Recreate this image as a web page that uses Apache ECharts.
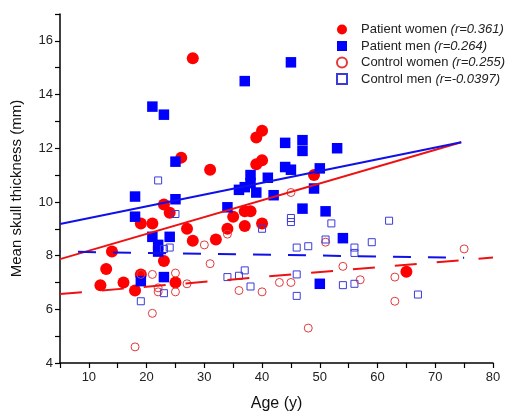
<!DOCTYPE html>
<html>
<head>
<meta charset="utf-8">
<script src="https://cdn.jsdelivr.net/npm/echarts@6/dist/echarts.min.js"></script>
<style>html,body{margin:0;padding:0;background:#fff}#c{width:508px;height:417px}</style>
</head>
<body>
<div id="c"></div>
<script>
// Patient women
const pwAge = [12,13,14,16,18,19,19,21,23,23,24,25,26,27,28,28,31,32,34,35,37,37,38,39,39,40,40,40,49,65];
const pwThk = [6.9,7.5,8.15,7.0,6.7,9.2,7.3,9.2,9.9,7.8,9.6,7.0,11.65,9.0,8.55,15.35,11.2,8.6,9.0,9.45,9.1,9.65,9.65,12.4,11.4,12.65,11.55,9.2,11.0,7.4];
// Patient men
const pmAge = [18,18,19,21,21,22,22,23,23,24,25,25,34,36,37,37,38,38,39,41,42,44,44,45,45,47,47,47,49,50,50,51,53,54];
const pmThk = [10.2,9.45,7.05,13.55,8.7,8.4,8.15,13.25,7.2,8.7,11.5,10.1,9.8,10.45,10.55,14.5,11.0,10.7,10.35,10.9,10.25,12.2,11.3,11.2,15.2,12.3,11.9,9.75,10.5,11.25,6.95,9.65,12.0,8.65];
// Control women
const cwAge = [18,19,21,21,22,22,25,25,27,30,31,34,36,40,43,45,45,48,51,54,57,63,63,75];
const cwThk = [4.6,7.3,7.3,5.85,6.8,6.65,7.35,6.65,6.95,8.4,7.7,8.8,6.7,6.65,7.0,7.0,10.35,5.3,8.5,7.6,7.1,7.2,6.3,8.25];
// Control men
const cmAge = [19,22,23,23,24,25,34,36,37,38,40,45,45,46,46,46,48,51,52,54,56,56,56,59,62,67];
const cmThk = [6.3,10.8,6.6,8.25,8.3,9.55,7.2,7.25,7.45,6.85,9.0,9.4,9.25,8.3,7.3,6.5,8.35,8.6,9.2,6.9,8.3,8.1,6.95,8.5,9.3,6.55];
// Regression line endpoints
const pwFitX = [5, 74.5], pwFitY = [7.87, 12.22];
const pmFitX = [5, 74.5], pmFitY = [9.18, 12.22];
const cwFitX = [5, 80], cwFitY = [6.57, 7.93];
const cmFitX = [5, 75], cmFitY = [8.15, 7.92];
// Legend names and r values
const names = ['Patient women', 'Patient men', 'Control women', 'Control men'];
const rVals = ['0.361', '0.264', '0.255', '-0.0397'];

const zip = (a, b) => a.map((v, i) => [v, b[i]]);
const FONT = 'Arial, "Liberation Sans", Helvetica, sans-serif';
const RED = '#ff0000', BLUE = '#0000ff';

const chart = echarts.init(document.getElementById('c'), null, {renderer: 'canvas'});
const axisCommon = {
  axisLine: {show: true, onZero: false, lineStyle: {color: '#000', width: 1.5}},
  axisTick: {show: true, inside: false, length: 5, lineStyle: {color: '#000', width: 1.2}},
  splitLine: {show: false},
  nameLocation: 'middle',
  nameTextStyle: {fontFamily: FONT, color: '#111'}
};
chart.setOption({
  animation: false,
  backgroundColor: '#fff',
  grid: {left: 60, right: 15, top: 14, bottom: 50},
  legend: {
    orient: 'vertical',
    left: 336, top: 23, padding: 0,
    itemWidth: 10, itemHeight: 10, itemGap: 3.5,
    data: names,
    formatter: n => '{n|' + n + ' }{i|(r=' + rVals[names.indexOf(n)] + ')}',
    textStyle: {
      fontFamily: FONT, fontSize: 13, color: '#222', lineHeight: 13,
      rich: {
        n: {fontFamily: FONT, fontSize: 13, color: '#222', lineHeight: 13, padding: [0, 0, 0, 9]},
        i: {fontFamily: FONT, fontSize: 13, color: '#222', lineHeight: 13, fontStyle: 'italic'}
      }
    }
  },
  xAxis: Object.assign({}, axisCommon, {
    type: 'value', min: 5, max: 80, interval: 5,
    name: 'Age (y)', nameGap: 33,
    nameTextStyle: {fontFamily: FONT, fontSize: 16, color: '#111'},
    axisLabel: {fontFamily: FONT, fontSize: 13, color: '#222', margin: 8,
      formatter: v => (v % 10 === 0 ? String(v) : '')}
  }),
  yAxis: Object.assign({}, axisCommon, {
    type: 'value', min: 4, max: 17, interval: 1,
    name: 'Mean skull thickness (mm)', nameGap: 36,
    nameTextStyle: {fontFamily: FONT, fontSize: 15, color: '#111'},
    axisLabel: {fontFamily: FONT, fontSize: 13, color: '#222', margin: 7,
      formatter: v => (v % 2 === 0 && v <= 16 ? String(v) : '')}
  }),
  series: [
    {name: names[0], type: 'scatter', symbol: 'circle', symbolSize: 12,
      itemStyle: {color: RED, opacity: 1}, data: zip(pwAge, pwThk), z: 2},
    {name: names[1], type: 'scatter', symbol: 'rect', symbolSize: 10.5,
      itemStyle: {color: BLUE, opacity: 1}, data: zip(pmAge, pmThk), z: 2},
    {name: names[2], type: 'scatter', symbol: 'circle', symbolSize: 8,
      itemStyle: {color: 'rgba(255,255,255,0)', borderColor: '#e23a3a', borderWidth: 1, opacity: 1},
      data: zip(cwAge, cwThk), z: 3},
    {name: names[3], type: 'scatter', symbol: 'rect', symbolSize: 7,
      itemStyle: {color: 'rgba(255,255,255,0)', borderColor: '#3b3bd9', borderWidth: 1, opacity: 1},
      data: zip(cmAge, cmThk), z: 3},
    {type: 'line', data: zip(pwFitX, pwFitY), symbol: 'none', silent: true, z: 4,
      lineStyle: {color: '#ee1111', width: 2}},
    {type: 'line', data: zip(pmFitX, pmFitY), symbol: 'none', silent: true, z: 4,
      lineStyle: {color: '#1010e8', width: 2}},
    {type: 'line', data: zip(cwFitX, cwFitY), symbol: 'none', silent: true, z: 4,
      lineStyle: {color: '#ee1111', width: 2, type: [22, 20], dashOffset: 0}},
    {type: 'line', data: zip(cmFitX, cmFitY), symbol: 'none', silent: true, z: 4,
      lineStyle: {color: '#1010e8', width: 2, type: [18, 17], dashOffset: 17}}
  ]
});
</script>
</body>
</html>
